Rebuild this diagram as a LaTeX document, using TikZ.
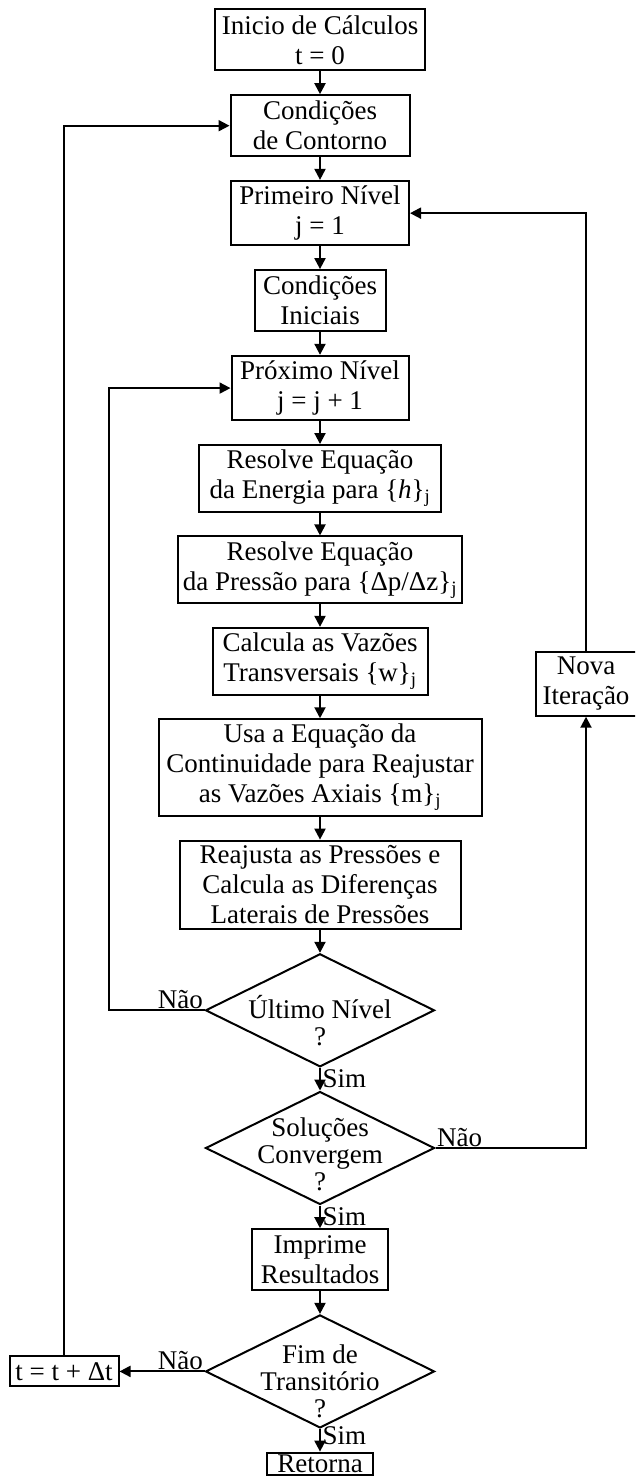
\documentclass[tikz,border=0pt]{standalone}
\usepackage{fontspec}
\setmainfont{Liberation Serif}
\usetikzlibrary{arrows.meta,positioning,shapes.geometric}

\begin{document}
\begin{tikzpicture}[
    x=1pt, y=-1pt,
    node distance=22.7pt,
    box/.style={
      draw,
      line width=2pt,
      align=center,
      font=\fontsize{27}{30}\selectfont,
      inner xsep=5pt,
      inner ysep=5pt,
      minimum height=61pt
    },
    dec/.style={
      draw,
      diamond,
      aspect=2,
      line width=2pt,
      align=center,
      font=\fontsize{27}{27}\selectfont,
      inner sep=-40pt,
      minimum width=229pt,
      minimum height=113pt
    },
    lbl/.style={font=\fontsize{27}{30}\selectfont, inner sep=1.5pt},
    arr/.style={-{Triangle[length=11pt,width=11pt]}, line width=2pt}
  ]
    \clip (0,0) rectangle (635,1479);
    % main column
    \node[box, minimum width=210pt] (inicio) at (320,40) {Inicio de Cálculos\\t = 0};
    \node[box, minimum width=179pt] (contorno) [below=of inicio] {Condições\\de Contorno};
    \node[box, minimum width=178pt] (primeiro) [below=of contorno] {Primeiro Nível\\j = 1};
    \node[box, minimum width=131pt] (iniciais) [below=of primeiro] {Condições\\Iniciais};
    \node[box, minimum width=177pt] (proximo) [below=of iniciais] {Próximo Nível\\j = j + 1};
    \node[box, minimum width=242pt] (energia) [below=of proximo]
      {Resolve Equação\\da Energia para \{\textit{h}\}\textsubscript{j}};
    \node[box, minimum width=282pt] (pressao) [below=of energia]
      {Resolve Equação\\da Pressão para \{Δp/Δz\}\textsubscript{j}};
    \node[box, minimum width=215pt] (transv) [below=of pressao]
      {Calcula as Vazões\\Transversais \{w\}\textsubscript{j}};
    \node[box, minimum width=323pt] (continuidade) [below=of transv]
      {Usa a Equação da\\Continuidade para Reajustar\\as Vazões Axiais \{m\}\textsubscript{j}};
    \node[box, minimum width=281pt] (reajusta) [below=of continuidade]
      {Reajusta as Pressões e\\Calcula as Diferenças\\Laterais de Pressões};
    \node[dec] (ultimo) [below=of reajusta] {\rule{0pt}{44pt}Último Nível\\?};
    \node[dec] (converge) [below=of ultimo] {\rule{0pt}{32pt}Soluções\\Convergem\\?};
    \node[box, minimum width=136pt] (imprime) [below=of converge] {Imprime\\Resultados};
    \node[dec] (fim) [below=of imprime] {\rule{0pt}{38pt}Fim de\\Transitório\\?};
    \node[box, minimum width=106pt, minimum height=0pt, inner ysep=2pt] (retorna) [below=of fim] {Retorna};
    % side nodes
    \node[box, minimum width=101pt] (nova) at (586,684) {Nova\\Iteração};
    \node[box, minimum width=109pt, minimum height=30pt, inner ysep=3pt] (tpasso) [left=85pt of fim] {t = t + Δt};
    \coordinate (laco) at (109,0);

    \draw[arr] (inicio) -- (contorno);
    \draw[arr] (contorno) -- (primeiro);
    \draw[arr] (primeiro) -- (iniciais);
    \draw[arr] (iniciais) -- (proximo);
    \draw[arr] (proximo) -- (energia);
    \draw[arr] (energia) -- (pressao);
    \draw[arr] (pressao) -- (transv);
    \draw[arr] (transv) -- (continuidade);
    \draw[arr] (continuidade) -- (reajusta);
    \draw[arr] (reajusta) -- (ultimo);
    \draw[arr] (ultimo) -- node[lbl, right] {Sim} (converge);
    \draw[arr] (converge) -- node[lbl, right] {Sim} (imprime);
    \draw[arr] (imprime) -- (fim);
    \draw[arr] (fim) -- node[lbl, right, pos=0.3] {Sim} (retorna);

    % loops
    \draw[arr] (ultimo.west) -- (ultimo.west -| laco) |- (proximo.west);
    \node[lbl, above left] at (ultimo.west) {Não};
    \draw[arr] (converge.east) -| (nova.south);
    \node[lbl, above right] at (converge.east) {Não};
    \draw[arr] (nova.north) |- (primeiro.east);
    \draw[arr] (fim.west) -- (tpasso.east);
    \node[lbl, above left] at (fim.west) {Não};
    \draw[arr] (tpasso.north) |- (contorno.west);
\end{tikzpicture}
\end{document}
